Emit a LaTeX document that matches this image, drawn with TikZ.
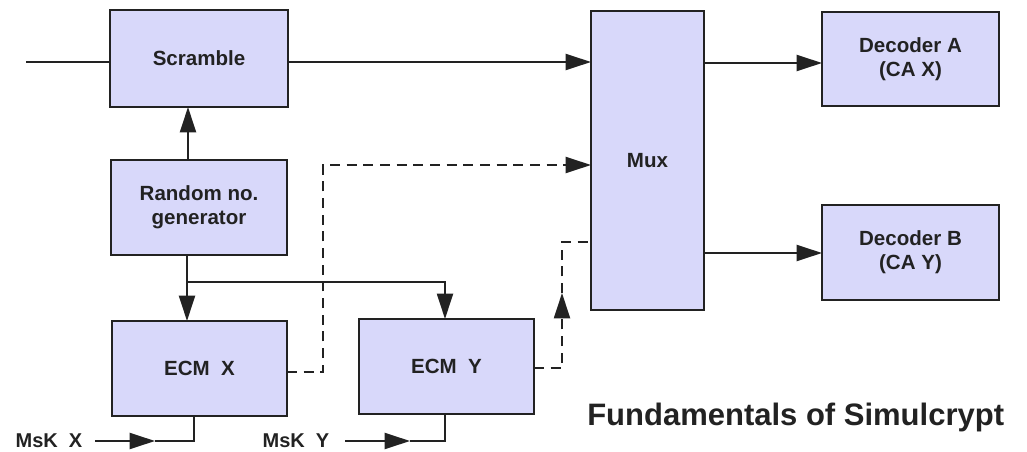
\documentclass[tikz,border=0pt]{standalone}
\usepackage{fontspec}
\setmainfont{Liberation Sans}
\usetikzlibrary{arrows.meta}
\definecolor{boxfill}{RGB}{216,216,250}
\definecolor{ink}{RGB}{34,34,34}
\begin{document}
\begin{tikzpicture}[x=0.75pt,y=-0.75pt,
  blk/.style={draw=ink, fill=boxfill, line width=1.5pt, inner sep=0pt, outer sep=0pt,
    align=center, text=ink, font=\fontsize{15.4}{18}\selectfont\bfseries},
  conn/.style={draw=ink, line width=1.5pt},
  tip/.style={-{Triangle[length=19pt,width=12pt]}},
  arr/.style={conn, tip},
  dsh/.style={conn, dash pattern=on 7.5pt off 5pt},
  lbl/.style={text=ink, font=\fontsize{15}{18}\selectfont\bfseries, inner sep=0pt}]
\useasboundingbox (0,0) rectangle (1027,452);
\fill[white] (0,0) rectangle (1027,452);

% blocks
\node[blk, minimum width=133.5pt, minimum height=72.75pt] (scr) at (199,58.5) {Scramble};
\node[blk, minimum width=132pt, minimum height=71.25pt] (rng) at (199,207.5) {Random no.\\generator};
\node[blk, minimum width=131.25pt, minimum height=71.25pt] (ecmx) at (199.5,368.5) {ECM\ \ X};
\node[blk, minimum width=131.25pt, minimum height=71.25pt] (ecmy) at (446.5,366.5) {ECM\ \ Y};
\node[blk, minimum width=84.75pt, minimum height=224.25pt] (mux) at (647.5,160.5) {Mux};
\node[blk, minimum width=132.75pt, minimum height=70.5pt] (deca) at (910.5,59) {Decoder A\\(CA X)};
\node[blk, minimum width=132.75pt, minimum height=71.25pt] (decb) at (910.5,252.5) {Decoder B\\(CA Y)};

% labels
\node[lbl] (mskx) at (49,441) {MsK\ \ X};
\node[lbl] (msky) at (296,441) {MsK\ \ Y};
\node[anchor=base west, text=ink, inner sep=0pt, font=\fontsize{23.25}{28}\selectfont\bfseries] (title) at (587,425) {Fundamentals of Simulcrypt};

% coordinates
\coordinate (in) at (26,62);
\coordinate (ra) at (188,62);
\coordinate (br) at (187,282);
\coordinate (by) at (445,282);
\coordinate (cx) at (323,372);
\coordinate (cxt) at (323,165);
\coordinate (cy) at (562,368);
\coordinate (cyt) at (562,293);
\coordinate (cym) at (562,242);
\coordinate (da) at (704,63);
\coordinate (db) at (704,253);
\coordinate (mx0) at (95,441);
\coordinate (mx1) at (155,441);
\coordinate (mx2) at (194,441);
\coordinate (my0) at (345,441);
\coordinate (my1) at (410,441);
\coordinate (my2) at (445,441);

% main signal
\draw[conn] (in) -- (scr.west |- in);
\draw[arr] (scr.east |- in) -- (mux.west |- in);
\draw[arr] (rng.north -| ra) -- (scr.south -| ra);
\draw[arr] (mux.east |- da) -- (deca.west |- da);
\draw[arr] (mux.east |- db) -- (decb.west |- db);

% random number distribution
\draw[conn] (rng.south -| br) -- (br);
\draw[arr] (br) -- (br |- ecmx.north);
\draw[arr] (br) -- (by) -- (by |- ecmy.north);

% ECM dashed paths
\draw[dsh, tip] (ecmx.east |- cx) -- (cx) -- (cxt) -- (mux.west |- cxt);
\draw[dsh, tip] (ecmy.east |- cy) -- (cy) -- (cyt);
\draw[dsh] (cyt) -- (cym) -- (mux.west |- cym);

% MsK inputs
\draw[arr] (mx0) -- (mx1);
\draw[conn] (mx1) -- (mx2) -- (mx2 |- ecmx.south);
\draw[arr] (my0) -- (my1);
\draw[conn] (my1) -- (my2) -- (my2 |- ecmy.south);
\end{tikzpicture}
\end{document}
